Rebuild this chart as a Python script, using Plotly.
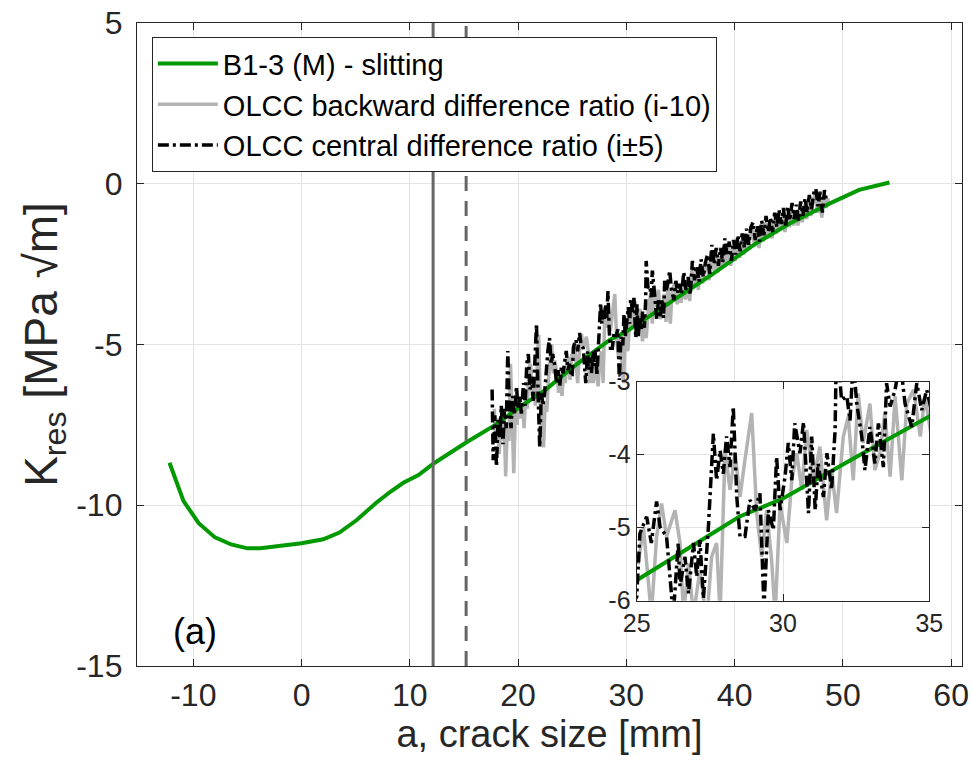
import plotly.graph_objects as go

# ---------------- data ----------------
slit_a = [-12.2, -10.9, -9.5, -8.0, -6.5, -5.0, -3.8, -2.0, 0.0, 2.0, 3.5, 5.1, 6.9, 8.2, 9.4,
          10.8, 12.2, 15.2, 17.9, 20.0, 22.5, 25.0, 28.5, 30.0, 32.5, 35.0, 38.0, 42.0, 45.0,
          48.8, 51.5, 54.3]
slit_k = [-8.68, -9.87, -10.56, -11.0, -11.22, -11.34, -11.34, -11.27, -11.18, -11.06, -10.85,
          -10.46, -9.92, -9.58, -9.30, -9.06, -8.70, -8.05, -7.50, -6.98, -6.42, -5.72, -4.85,
          -4.60, -4.03, -3.46, -2.80, -1.85, -1.25, -0.61, -0.19, 0.04]

cen_a = [17.6, 17.7, 17.85, 18.0, 18.15, 18.3, 18.45, 18.6, 18.75, 18.9, 19.05, 19.2, 19.35,
         19.5, 19.65, 19.85, 20.0, 20.15, 20.3, 20.5, 20.65, 20.8, 20.95, 21.1, 21.25, 21.4,
         21.55, 21.7, 21.85, 22.0, 22.15, 22.3, 22.45, 22.6, 22.75, 22.9, 23.05, 23.2, 23.4,
         23.55, 23.7, 23.85, 24.0, 24.15, 24.3, 24.45, 24.6, 24.75, 24.9, 25.0,
         25.11, 25.34, 25.5, 25.68, 25.8, 26.02, 26.25, 26.42, 26.48, 26.65, 26.77, 26.94, 27.05,
         27.16, 27.28, 27.45, 27.62, 27.73, 27.85, 27.96, 28.07, 28.19, 28.3, 28.42, 28.53, 28.7,
         28.87, 29.04, 29.21, 29.35, 29.5, 29.67, 29.78, 29.9, 30.07, 30.18, 30.3, 30.4, 30.58,
         30.7, 30.87, 30.98, 31.1, 31.2, 31.38, 31.5, 31.66, 31.78, 31.83, 32.0, 32.18, 32.29,
         32.4, 32.52, 32.69, 32.8, 32.97, 33.14, 33.26, 33.43, 33.54, 33.66, 33.83, 34.0, 34.17,
         34.4, 34.57, 34.74, 34.91,
         35.1, 35.3, 35.5, 35.7, 35.9, 36.1, 36.3, 36.5, 36.7, 36.9, 37.1, 37.3, 37.5, 37.7,
         37.9, 38.1, 38.3, 38.5, 38.7, 38.9, 39.1, 39.3, 39.5, 39.7, 39.9, 40.1, 40.3, 40.5,
         40.7, 40.9, 41.1, 41.3, 41.5, 41.7, 41.9, 42.1, 42.3, 42.5, 42.7, 42.9, 43.1, 43.3,
         43.5, 43.7, 43.9, 44.1, 44.3, 44.5, 44.7, 44.9, 45.1, 45.3, 45.5, 45.7, 45.9, 46.1,
         46.3, 46.5, 46.7, 46.9, 47.1, 47.3, 47.5, 47.7, 47.9, 48.1, 48.3, 48.5]
cen_k = [-6.4, -8.6, -7.2, -8.8, -7.35, -7.9, -6.9, -8.1, -7.0, -7.6, -5.2, -7.1, -7.6,
         -6.6, -7.2, -6.3, -7.0, -6.6, -7.15, -6.2, -6.9, -5.6, -5.3, -6.4, -6.0, -6.75,
         -5.5, -4.35, -6.6, -8.2, -6.5, -6.9, -6.5, -5.8, -5.2, -4.8, -5.6, -5.3, -5.7,
         -6.2, -5.8, -6.3, -5.7, -5.9, -5.5, -5.2, -5.8, -5.6, -6.0, -5.95,
         -5.08, -4.85, -5.21, -4.64, -4.99, -5.12, -6.2, -5.21, -5.8, -5.4, -5.9, -5.21, -5.67,
         -5.17, -5.97, -4.99, -3.71, -4.35, -3.94, -4.26, -3.75, -4.17, -3.34, -4.58, -5.12, -5.12,
         -4.62, -4.76, -4.53, -6.1, -4.76, -5.03, -4.03, -4.76, -4.3, -3.84, -4.35, -3.57, -3.98,
         -3.55, -4.8, -3.75, -4.76, -4.12, -4.58, -3.98, -4.48, -3.66, -2.4, -3.25, -3.2, -3.53,
         -2.7, -3.3, -3.75, -4.21, -3.62, -4.12, -3.57, -4.17, -3.02, -3.34, -3.11, -2.7, -3.3,
         -3.62, -3.02, -3.39, -3.11,
         -3.45, -2.75, -3.3, -2.9, -3.45, -2.4, -3.0, -2.55, -3.05, -2.35, -2.9, -2.45, -2.2, -2.8,
         -1.9, -2.5, -2.0, -2.55, -2.0, -2.45, -1.7, -2.25, -1.8, -2.4, -1.75, -2.2, -1.6, -2.1,
         -1.55, -2.0, -1.4, -1.9, -1.35, -1.2, -1.75, -1.3, -1.8, -1.15, -1.6, -1.0, -1.5, -1.05,
         -1.5, -0.9, -1.35, -0.8, -1.25, -0.75, -1.35, -0.7, -1.15, -0.6, -1.1, -0.65, -1.15, -0.55,
         -1.0, -0.45, -0.9, -0.35, -0.8, -0.3, -0.15, -0.7, -0.25, -0.9, -0.2, -0.55]

back_a = [17.8, 17.95, 18.1, 18.25, 18.4, 18.55, 18.7, 18.85, 19.0, 19.15, 19.3, 19.45, 19.6,
          19.75, 19.9, 20.05, 20.2, 20.4, 20.55, 20.7, 20.85, 21.0, 21.15, 21.3, 21.45, 21.6,
          21.75, 21.9, 22.05, 22.2, 22.35, 22.5, 22.65, 22.8, 22.95, 23.1, 23.25, 23.4, 23.6,
          23.75, 23.9, 24.05, 24.2, 24.35, 24.5, 24.65, 24.8, 24.95,
          25.05, 25.23, 25.5, 25.68, 25.85, 26.02, 26.31, 26.48, 26.6, 26.77, 26.94, 27.16, 27.39,
          27.56, 27.73, 27.85, 28.02, 28.19, 28.36, 28.53, 28.7, 28.93, 29.1, 29.27, 29.44, 29.61,
          29.73, 29.9, 30.13, 30.3, 30.47, 30.64, 30.81, 31.04, 31.26, 31.49, 31.66, 31.83, 32.06,
          32.23, 32.4, 32.57, 32.74, 32.97, 33.14, 33.31, 33.48, 33.66, 33.83, 34.06, 34.23, 34.46,
          34.69, 34.85,
          35.05, 35.25, 35.45, 35.65, 35.85, 36.05, 36.25, 36.45, 36.65, 36.85, 37.05, 37.25,
          37.45, 37.65, 37.85, 38.05, 38.25, 38.45, 38.65, 38.85, 39.05, 39.25, 39.45, 39.65,
          39.85, 40.05, 40.25, 40.45, 40.65, 40.85, 41.05, 41.25, 41.45, 41.65, 41.85, 42.05,
          42.25, 42.45, 42.65, 42.85, 43.05, 43.25, 43.45, 43.65, 43.85, 44.05, 44.25, 44.45,
          44.65, 44.85, 45.05, 45.25, 45.45, 45.65, 45.85, 46.05, 46.25, 46.45, 46.65, 46.85,
          47.05, 47.25, 47.45, 47.65, 47.85, 48.05, 48.25, 48.45, 48.65]
back_k = [-7.0, -8.0, -7.3, -8.4, -7.5, -8.0, -7.2, -9.1, -7.6, -8.0, -5.6, -7.4, -9.0,
          -7.0, -7.5, -6.6, -7.3, -6.8, -7.6, -6.5, -7.0, -5.7, -5.6, -6.6, -6.2, -6.9,
          -5.8, -4.7, -6.8, -7.4, -8.2, -6.8, -7.1, -6.1, -5.5, -5.0, -5.9, -5.5, -6.0,
          -6.5, -6.0, -6.6, -5.9, -6.2, -5.6, -5.4, -6.1, -5.3,
          -5.5, -4.99, -6.2, -5.12, -4.67, -5.12, -4.76, -5.21, -6.2, -5.49, -6.2, -5.58, -6.3,
          -5.4, -5.21, -6.2, -3.94, -4.48, -3.98, -4.58, -4.07, -3.43, -4.8, -5.4, -4.76, -5.44,
          -6.2, -4.67, -5.21, -4.35, -3.98, -4.48, -3.66, -4.35, -3.89, -4.9, -4.21, -4.8, -3.75,
          -3.48, -4.35, -3.16, -3.84, -3.3, -4.21, -3.98, -3.43, -4.3, -3.2, -4.35, -3.3, -3.11,
          -3.75, -3.2,
          -3.7, -3.0, -3.6, -3.1, -3.65, -2.65, -3.25, -2.75, -3.3, -2.55, -3.1, -2.65,
          -2.45, -3.0, -2.15, -2.7, -2.2, -2.75, -2.25, -2.6, -1.95, -2.45, -2.0, -2.55,
          -1.95, -2.4, -1.8, -2.3, -1.75, -2.2, -1.6, -2.05, -1.55, -1.4, -1.95, -1.5,
          -2.0, -1.35, -1.8, -1.2, -1.7, -1.25, -1.7, -1.1, -1.55, -1.0, -1.45, -0.95,
          -1.5, -0.9, -1.35, -0.8, -1.3, -0.85, -1.3, -0.75, -1.2, -0.65, -1.1, -0.55,
          -1.0, -0.5, -0.35, -0.9, -0.45, -1.05, -0.4, -0.75, -0.45]

a_init_solid = 12.15
a_init_dashed = 15.2

x_ticks = [-10, 0, 10, 20, 30, 40, 50, 60]
x_tick_text = ["-10", "0", "10", "20", "30", "40", "50", "60"]
y_ticks = [5, 0, -5, -10, -15]
y_tick_text = ["5", "0", "-5", "-10", "-15"]
inset_x_ticks = [25, 30, 35]
inset_x_tick_text = ["25", "30", "35"]
inset_y_ticks = [-3, -4, -5, -6]
inset_y_tick_text = ["-3", "-4", "-5", "-6"]

names = ["B1-3 (M) - slitting",
         "OLCC backward difference ratio (i-10)",
         "OLCC central difference ratio (i\u00b15)"]

GREEN = "rgb(0,153,0)"
GRAY = "rgb(179,179,179)"
BLACK = "black"
DASHDOT = "11px,4px,3px,4px"
FONT = "Liberation Sans, Arial, Helvetica, sans-serif"
TXT = "#262626"
GRID = "#e3e3e3"

fig = go.Figure()

# main traces
fig.add_trace(go.Scatter(x=back_a, y=back_k, mode="lines", name=names[1], legendrank=2,
                         line=dict(color=GRAY, width=3.5), xaxis="x", yaxis="y"))
fig.add_trace(go.Scatter(x=slit_a, y=slit_k, mode="lines", name=names[0], legendrank=1,
                         line=dict(color=GREEN, width=4), xaxis="x", yaxis="y"))
fig.add_trace(go.Scatter(x=cen_a, y=cen_k, mode="lines", name=names[2], legendrank=3,
                         line=dict(color=BLACK, width=3.5, dash=DASHDOT), xaxis="x", yaxis="y"))

# inset traces
fig.add_trace(go.Scatter(x=back_a, y=back_k, mode="lines", showlegend=False,
                         line=dict(color=GRAY, width=3.5), xaxis="x2", yaxis="y2"))
fig.add_trace(go.Scatter(x=slit_a, y=slit_k, mode="lines", showlegend=False,
                         line=dict(color=GREEN, width=4), xaxis="x2", yaxis="y2"))
fig.add_trace(go.Scatter(x=cen_a, y=cen_k, mode="lines", showlegend=False,
                         line=dict(color=BLACK, width=3.5, dash=DASHDOT), xaxis="x2", yaxis="y2"))

# vertical marker lines
fig.add_shape(type="line", xref="x", yref="paper", x0=a_init_solid, x1=a_init_solid, y0=0, y1=1,
              line=dict(color="rgb(102,102,102)", width=3), layer="above")
fig.add_shape(type="line", xref="x", yref="paper", x0=a_init_dashed, x1=a_init_dashed, y0=0, y1=1,
              line=dict(color="rgb(102,102,102)", width=3, dash="15px,10px"), layer="above")

# white background for the inset
fig.add_shape(type="rect", xref="x2", yref="y2", x0=25, x1=35, y0=-6, y1=-3,
              fillcolor="white", line=dict(width=0), layer="below")

fig.add_annotation(x=-9.85, y=-13.94, xref="x", yref="y", text="(a)", showarrow=False,
                   font=dict(size=36, color="black", family=FONT))

axis_common = dict(showline=True, linecolor=TXT, linewidth=1.3, mirror="ticks",
                   ticks="inside", tickcolor=TXT, ticklen=7, showgrid=True, gridcolor=GRID,
                   gridwidth=1, zeroline=False, automargin=False)

fig.update_layout(
    width=972, height=763,
    margin=dict(l=137, r=10, t=23, b=97),
    paper_bgcolor="white", plot_bgcolor="white",
    font=dict(family=FONT, color=TXT),
    showlegend=True,
    legend=dict(x=0.018, y=0.978, xanchor="left", yanchor="top",
                bgcolor="white", bordercolor=TXT, borderwidth=1,
                font=dict(size=29, color="black", family=FONT),
                itemwidth=60, tracegroupgap=0),
    xaxis=dict(range=[-15.2, 61], tickvals=x_ticks, ticktext=x_tick_text, tickfont=dict(size=32),
               title=dict(text="a, crack size [mm]", font=dict(size=38), standoff=2),
               domain=[0, 1], **axis_common),
    yaxis=dict(range=[-15, 5], tickvals=y_ticks, ticktext=y_tick_text, tickfont=dict(size=32),
               ticklabelstandoff=7,
               title=dict(text="K<sub>res</sub> [MPa \u221am]", font=dict(size=46), standoff=4),
               domain=[0, 1], **axis_common),
    xaxis2=dict(range=[25, 35], tickvals=inset_x_ticks, ticktext=inset_x_tick_text,
                tickfont=dict(size=25), domain=[0.6057, 0.9604], anchor="y2", **axis_common),
    yaxis2=dict(range=[-6, -3], tickvals=inset_y_ticks, ticktext=inset_y_tick_text,
                tickfont=dict(size=25), domain=[0.1016, 0.4421], anchor="x2", **axis_common),
)

fig.write_html("out.html")
